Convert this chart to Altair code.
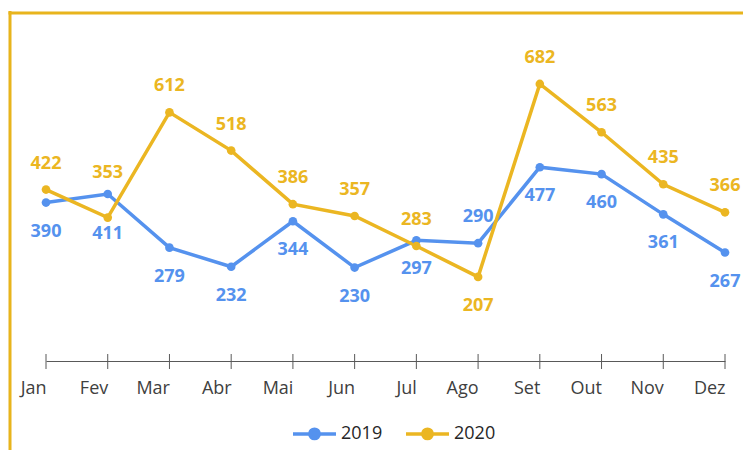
import altair as alt
import pandas as pd

months = ["Jan", "Fev", "Mar", "Abr", "Mai", "Jun", "Jul", "Ago", "Set", "Out", "Nov", "Dez"]
series_names = ["2019", "2020"]
values_2019 = [390, 411, 279, 232, 344, 230, 297, 290, 477, 460, 361, 267]
values_2020 = [422, 353, 612, 518, 386, 357, 283, 207, 682, 563, 435, 366]
# where each value label sits relative to its point
side_2019 = ["below", "below_far", "below", "below", "below", "below", "below", "above", "below", "below", "below", "below"]
side_2020 = ["above", "above_far", "above", "above", "above", "above", "above", "below", "above", "above", "above", "above"]

BLUE = "#5592EE"
GOLD = "#EBB622"
W, H = 679, 325

rows = []
for s, vals, sides in [("2019", values_2019, side_2019), ("2020", values_2020, side_2020)]:
    for m, v, sd in zip(months, vals, sides):
        rows.append({"month": m, "series": s, "value": v, "side": sd})
df = pd.DataFrame(rows)

x_enc = alt.X("month:O", sort=months, scale=alt.Scale(type="point", padding=0),
              axis=alt.Axis(title=None, labelAngle=0, ticks=False, domain=True,
                            domainColor="#595959", domainWidth=1, labelFontSize=18,
                            labelFont="Open Sans", labelColor="#404040", labelPadding=27,
                            grid=False))
y_enc = alt.Y("value:Q", scale=alt.Scale(domain=[0, 800]), axis=None)
color_enc = alt.Color("series:N", scale=alt.Scale(domain=series_names, range=[BLUE, GOLD]),
                      legend=alt.Legend(title=None, orient="none", direction="horizontal",
                                        legendX=245, legendY=374, padding=0,
                                        symbolType="M-1,0L1,0M-0.22,0a0.22,0.22 0 1,0 0.44,0a0.22,0.22 0 1,0 -0.44,0",
                                        symbolSize=1849, symbolStrokeWidth=3.5,
                                        labelFontSize=18, labelFont="Open Sans",
                                        labelColor="#262626", labelOffset=3, columnPadding=16))

base = alt.Chart(df)

lines = base.mark_line(strokeWidth=3.5).encode(x=x_enc, y=y_enc, color=color_enc)
points = base.mark_point(filled=True, size=75, opacity=1).encode(x=x_enc, y=y_enc, color=color_enc)

offsets = {"above": -26, "above_far": -45, "below": 29, "below_far": 40}
label_layers = []
for sd, dy in offsets.items():
    label_layers.append(
        base.transform_filter(alt.datum.side == sd)
        .mark_text(fontSize=18, fontWeight="bold", font="Open Sans", dy=dy)
        .encode(x=alt.X("month:O", sort=months), y="value:Q", text="value:Q",
                color=alt.Color("series:N", legend=None))
    )

ticks = base.transform_filter(alt.datum.series == "2019").mark_rule(color="#595959", strokeWidth=1).encode(
    x=alt.X("month:O", sort=months), y=alt.value(H - 7), y2=alt.value(H + 8))

border_left = alt.Chart(pd.DataFrame({"k": [0]})).mark_rule(color="#E8B41C", strokeWidth=3).encode(
    x=alt.value(-36), y=alt.value(-25), y2=alt.value(420))
border_top = alt.Chart(pd.DataFrame({"k": [0]})).mark_rule(color="#E8B41C", strokeWidth=3).encode(
    x=alt.value(-37.5), x2=alt.value(720), y=alt.value(-23))

chart = alt.layer(border_left, border_top, ticks, lines, points, *label_layers).properties(
    width=W, height=H,
    autosize=alt.AutoSizeParams(type="none"),
    padding={"left": 38, "top": 28, "right": 18, "bottom": 89},
).configure(background="white", view=alt.ViewConfig(stroke=None))

chart.save("out.html", embed_options={"renderer": "svg", "actions": False})
